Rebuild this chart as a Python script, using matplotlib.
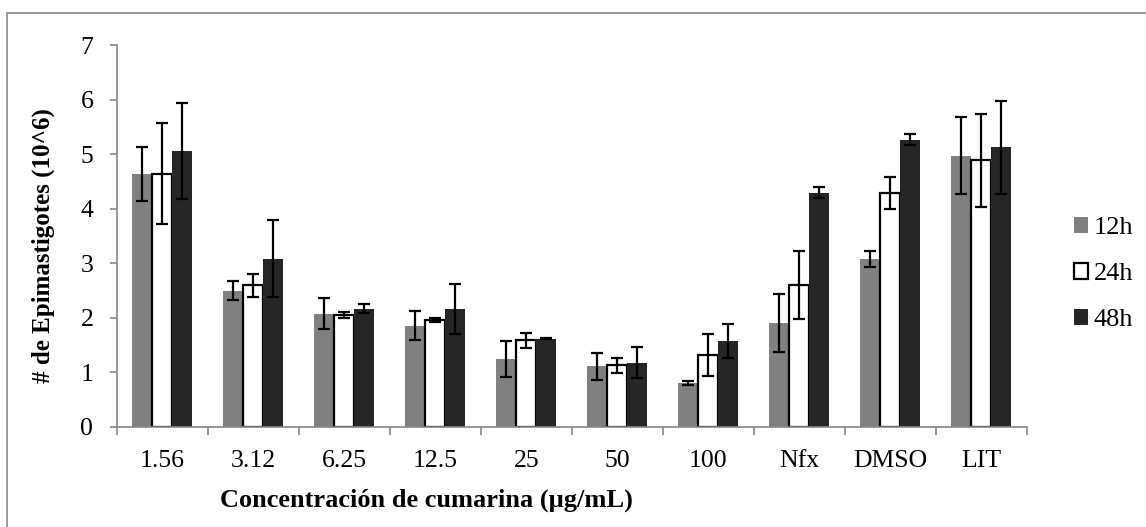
import numpy as np
import matplotlib
matplotlib.use('Agg')
import matplotlib.pyplot as plt
from matplotlib.patches import Rectangle

plt.rcParams['font.family'] = ['Liberation Serif', 'DejaVu Serif']

categories = ['1.56', '3.12', '6.25', '12.5', '25', '50', '100', 'Nfx', 'DMSO', 'LIT']
series = ['12h', '24h', '48h']

v12 = [4.64, 2.50, 2.08, 1.86, 1.24, 1.11, 0.80, 1.90, 3.08, 4.98]
e12 = [0.50, 0.18, 0.29, 0.26, 0.33, 0.25, 0.04, 0.53, 0.15, 0.71]
v24 = [4.65, 2.60, 2.05, 1.96, 1.59, 1.13, 1.32, 2.60, 4.29, 4.89]
e24 = [0.92, 0.21, 0.06, 0.04, 0.14, 0.14, 0.38, 0.62, 0.29, 0.85]
v48 = [5.06, 3.09, 2.17, 2.16, 1.62, 1.18, 1.57, 4.30, 5.27, 5.13]
e48 = [0.88, 0.71, 0.08, 0.46, 0.01, 0.29, 0.31, 0.10, 0.10, 0.85]

fig = plt.figure(figsize=(11.46, 5.27), dpi=100)
ax = fig.add_axes([0.102, 0.190, 0.794, 0.7237])

# outer frame like the spreadsheet chart area
fig.patches.append(Rectangle((7 / 1146, -0.05), 1.2, 1 - 13 / 527 + 0.05, transform=fig.transFigure,
                             fill=False, edgecolor='#888888', lw=1.2))

x = np.arange(len(categories))
w = 0.22
ekw = dict(ecolor='black', elinewidth=1.6, capsize=4.3, capthick=1.6)
ax.bar(x - w, v12, w, color='#808080', yerr=e12, error_kw=ekw, label=series[0], zorder=2)
ax.bar(x, v24, w, color='white', edgecolor='black', linewidth=1.6, yerr=e24, error_kw=ekw,
       label=series[1], zorder=2)
ax.bar(x + w, v48, w, color='#262626', yerr=e48, error_kw=ekw, label=series[2], zorder=2)

ax.set_xlim(-0.5, len(categories) - 0.5)
ax.set_ylim(0, 7)
ax.set_yticks(range(8))
ax.set_xticks(x)
ax.set_xticklabels(categories)
ax.set_xticks(np.arange(-0.5, len(categories)), minor=True)
ax.tick_params(axis='x', which='major', length=0, pad=17, labelsize=18.5)
ax.tick_params(axis='x', which='minor', length=6, color='#868686', width=1.2)
ax.tick_params(axis='y', length=5, color='#868686', width=1.2, pad=12, labelsize=18.5)
for s in ['top', 'right']:
    ax.spines[s].set_visible(False)
for s in ['left', 'bottom']:
    ax.spines[s].set_color('#868686')
    ax.spines[s].set_linewidth(1.2)

fig.text(43 / 1146, 1 - 246 / 527, '# de Epimastigotes (10^6)', fontsize=18, fontweight='bold',
         rotation=90, ha='center', va='center')
fig.text(426 / 1146, 1 - 500 / 527, 'Concentración de cumarina (µg/mL)', fontsize=19,
         fontweight='bold', ha='center', va='center')

leg = ax.legend(loc='center left', bbox_to_anchor=(1.0516, 0.40), frameon=False, fontsize=19,
                handlelength=0.55, handleheight=0.55, handletextpad=0.2, labelspacing=0.9,
                borderaxespad=0, borderpad=0)

fig.savefig('out.png', dpi=100)
